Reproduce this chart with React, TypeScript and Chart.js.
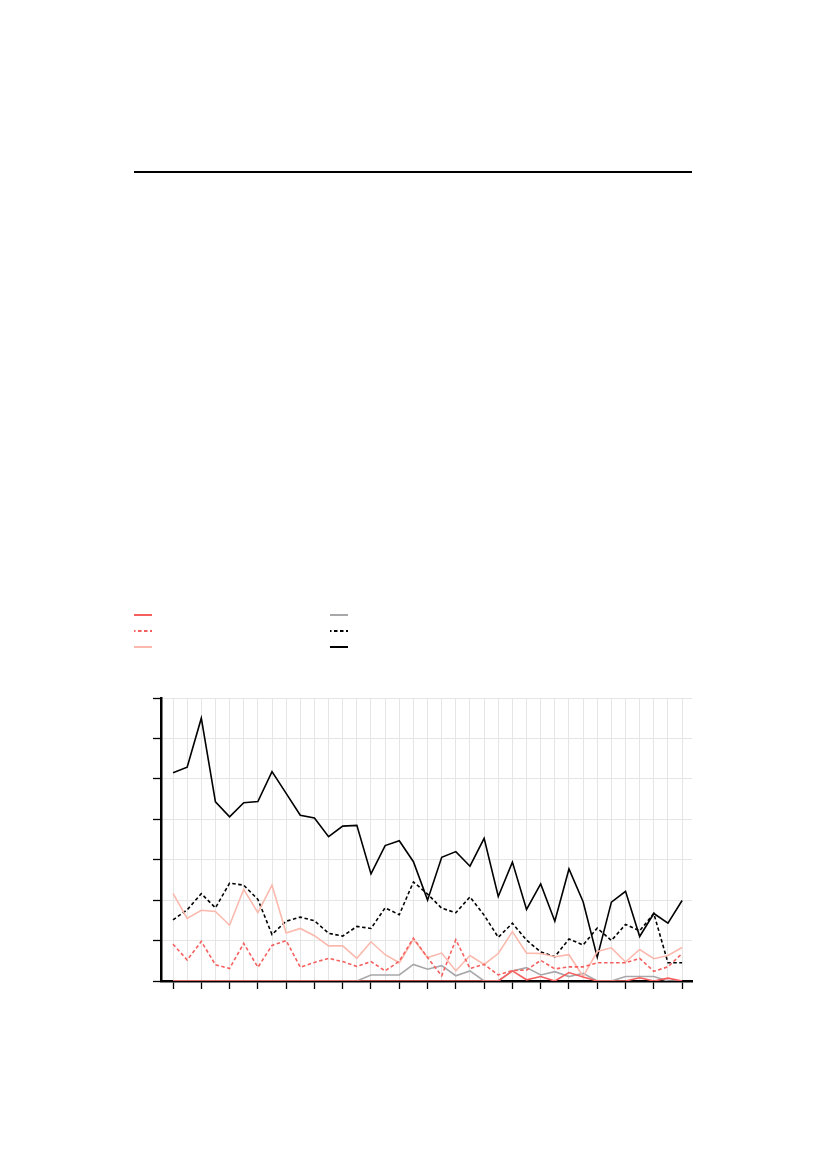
import { useEffect, useRef } from 'react';
import { Chart, registerables, Plugin } from 'chart.js';

Chart.register(...registerables);

// 37 periods along the x axis
const periods: number[] = Array.from({ length: 37 }, (_, i) => i);

const redSolid = [0, 0, 0, 0, 0, 0, 0, 0, 0, 0, 0, 0, 0, 0, 0, 0, 0, 0, 0, 0, 0, 0, 0, 0, 2.5, 0.3, 1.1, 0, 2.1, 1.0, 0, 0, 0, 0.8, 0, 0.7, 0];
const redDashed = [9.1, 5.2, 9.8, 4.0, 3.1, 9.3, 3.4, 8.8, 10.0, 3.4, 4.6, 5.6, 4.8, 3.6, 4.8, 2.5, 4.9, 10.6, 5.8, 1.3, 10.2, 3.1, 4.1, 1.5, 2.6, 2.7, 5.1, 3.0, 3.5, 3.5, 4.5, 4.5, 4.5, 5.6, 2.4, 3.5, 6.8];
const pinkSolid = [21.7, 15.5, 17.5, 17.2, 13.8, 22.7, 16.9, 23.7, 11.9, 13.0, 11.2, 8.7, 8.7, 5.6, 9.7, 6.5, 4.5, 10.3, 5.8, 6.9, 2.5, 6.3, 4.1, 6.8, 12.2, 6.9, 6.8, 6.0, 6.5, 1.1, 7.3, 8.2, 4.7, 7.8, 5.5, 6.3, 8.3];
const graySolid = [0, 0, 0, 0, 0, 0, 0, 0, 0, 0, 0, 0, 0, 0, 1.5, 1.5, 1.5, 4.1, 2.9, 3.8, 1.3, 2.5, 0, 0, 2.5, 3.3, 1.5, 2.3, 1.1, 1.9, 0, 0, 1.1, 1.1, 1.1, 0, 0];
const blackDashed = [15.1, 17.6, 21.6, 18.1, 24.2, 23.7, 20.2, 11.5, 14.8, 15.8, 14.9, 11.8, 11.1, 13.5, 13.0, 18.1, 16.4, 24.5, 21.5, 18.0, 16.9, 20.8, 16.3, 10.8, 14.3, 10.1, 7.2, 6.0, 10.4, 8.9, 13.1, 10.0, 14.0, 12.4, 16.7, 4.5, 4.5];
const blackSolid = [51.5, 52.9, 65.0, 44.3, 40.6, 44.1, 44.4, 51.8, 46.4, 41.0, 40.3, 35.7, 38.3, 38.5, 26.5, 33.5, 34.7, 29.5, 20.0, 30.6, 32.0, 28.4, 35.3, 20.9, 29.4, 17.7, 24.0, 14.8, 27.7, 19.6, 5.9, 19.5, 22.2, 11.0, 16.7, 14.3, 19.9];

const RED = '#f5605f';
const PINK = '#fbb9ae';
const GRAY = '#a8a8aa';
const BLACK = '#000000';
const DASH = [3.5, 2.5];

// legend drawn by hand: two columns of three samples, no text
const legendSamples: Plugin<'line'> = {
  id: 'legendSamples',
  afterDraw(chart) {
    const ctx = chart.ctx;
    chart.data.datasets.forEach((ds: any, i: number) => {
      const col = Math.floor(i / 3);
      const row = i % 3;
      const x0 = 134 + col * 196;
      const y = 615 + row * 16;
      ctx.save();
      ctx.strokeStyle = ds.borderColor;
      ctx.lineWidth = 2;
      ctx.setLineDash(ds.borderDash || []);
      ctx.lineDashOffset = 2;
      ctx.beginPath();
      ctx.moveTo(x0, y);
      ctx.lineTo(x0 + 18, y);
      ctx.stroke();
      ctx.restore();
    });
  },
};

export default function App() {
  const chartRef = useRef<HTMLCanvasElement>(null);
  const chartInstance = useRef<Chart | null>(null);

  useEffect(() => {
    if (chartInstance.current) {
      chartInstance.current.destroy();
    }
    const ctx = chartRef.current?.getContext('2d');
    if (!ctx) return;

    const toPoints = (vals: number[]) => periods.map((p, i) => ({ x: p, y: vals[i] }));

    chartInstance.current = new Chart(ctx, {
      type: 'line',
      data: {
        datasets: [
          { data: toPoints(redSolid), borderColor: RED, borderWidth: 1.6 },
          { data: toPoints(redDashed), borderColor: RED, borderWidth: 1.6, borderDash: DASH },
          { data: toPoints(pinkSolid), borderColor: PINK, borderWidth: 1.6 },
          { data: toPoints(graySolid), borderColor: GRAY, borderWidth: 1.6 },
          { data: toPoints(blackDashed), borderColor: BLACK, borderWidth: 1.6, borderDash: DASH },
          { data: toPoints(blackSolid), borderColor: BLACK, borderWidth: 1.6 },
        ],
      },
      options: {
        animation: false,
        responsive: false,
        maintainAspectRatio: false,
        elements: { point: { radius: 0 }, line: { tension: 0 } },
        layout: { padding: { left: 161, top: 698, right: 135, bottom: 188 } },
        plugins: { legend: { display: false }, tooltip: { enabled: false } },
        scales: {
          x: {
            type: 'linear',
            min: -0.85,
            max: 36.7,
            afterFit: (scale) => { scale.height = 0; },
            ticks: { display: false, stepSize: 1, includeBounds: false },
            grid: {
              color: '#e5e5e5',
              lineWidth: 1,
              tickLength: 8,
              tickWidth: 1.3,
              tickColor: (c: any) => (c.tick && c.tick.value % 2 === 0 ? BLACK : 'rgba(0,0,0,0)'),
            },
            border: { color: BLACK, width: 2.5 },
          },
          y: {
            min: 0,
            max: 70,
            afterFit: (scale) => { scale.width = 0; },
            ticks: { display: false, stepSize: 10 },
            grid: { color: '#e5e5e5', lineWidth: 1, tickLength: 8, tickWidth: 1.3, tickColor: BLACK },
            border: { color: BLACK, width: 2.5 },
          },
        },
      },
      plugins: [legendSamples],
    });

    return () => {
      if (chartInstance.current) {
        chartInstance.current.destroy();
        chartInstance.current = null;
      }
    };
  }, []);

  return (
    <div style={{ position: 'absolute', left: 0, top: 0, width: 827, height: 1169, background: '#fff' }}>
      <div style={{ position: 'absolute', left: 134, top: 171, width: 558, height: 2, background: '#000' }} />
      <canvas ref={chartRef} width={827} height={1169} style={{ position: 'absolute', left: 0, top: 0, width: 827, height: 1169 }} />
    </div>
  );
}
